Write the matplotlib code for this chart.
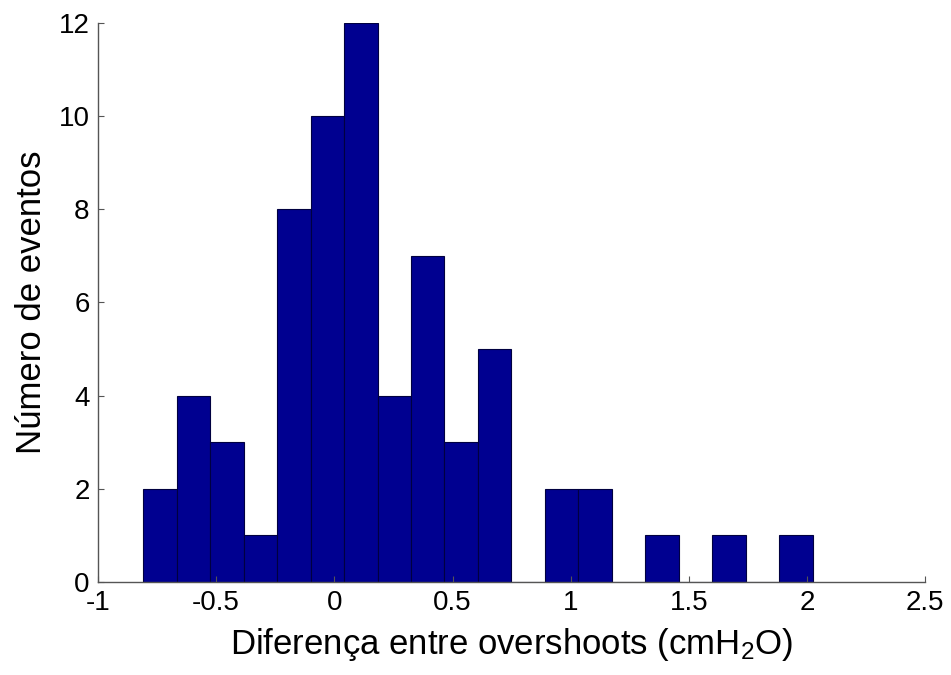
import numpy as np
import matplotlib.pyplot as plt

plt.rcParams['font.family'] = ['Liberation Sans', 'DejaVu Sans']
plt.rcParams['mathtext.fontset'] = 'custom'
plt.rcParams['mathtext.rm'] = 'Liberation Sans'
plt.rcParams['mathtext.it'] = 'Liberation Sans:italic'

# histogram: 20 bins between min and max
x_min = -0.808
x_max = 2.023
counts = [2, 4, 3, 1, 8, 10, 12, 4, 7, 3, 5, 0, 2, 2, 0, 1, 0, 1, 0, 1]

edges = np.linspace(x_min, x_max, len(counts) + 1)
centers = (edges[:-1] + edges[1:]) / 2

fig = plt.figure(figsize=(9.51, 6.75), dpi=100)
ax = fig.add_axes([0.103, 0.138, 0.870, 0.828])

ax.hist(centers, bins=edges, weights=counts, color='#000090',
        edgecolor='#000040', linewidth=0.8)

ax.set_xlim(-1, 2.5)
ax.set_ylim(0, 12)
ax.set_xticks([-1, -0.5, 0, 0.5, 1, 1.5, 2, 2.5])
ax.set_xticklabels(['-1', '-0.5', '0', '0.5', '1', '1.5', '2', '2.5'])
ax.set_yticks(range(0, 13, 2))

for side in ['top', 'right']:
    ax.spines[side].set_visible(False)
for side in ['left', 'bottom']:
    ax.spines[side].set_color('#555555')
    ax.spines[side].set_linewidth(1.0)

ax.tick_params(direction='in', length=4, width=0.8, color='#555555',
               labelsize=20, pad=6)

ax.set_xlabel(r'Diferença entre overshoots (cmH$_\mathrm{2}$O)', fontsize=25, labelpad=7)
ax.set_ylabel('Número de eventos', fontsize=25, labelpad=8)

fig.savefig('out.png', dpi=100)
